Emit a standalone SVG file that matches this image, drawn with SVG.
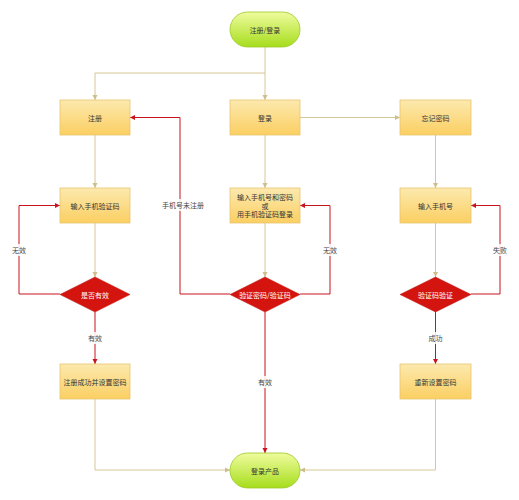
<svg xmlns="http://www.w3.org/2000/svg" width="519" height="500" viewBox="0 0 519 500">
<defs>
<linearGradient id="gBox" x1="0" y1="0" x2="0" y2="1">
<stop offset="0" stop-color="#fce9ae"/>
<stop offset="1" stop-color="#fbcf62"/>
</linearGradient>
<linearGradient id="gTerm" x1="0" y1="0" x2="0" y2="1">
<stop offset="0" stop-color="#effc9e"/>
<stop offset="1" stop-color="#a6dd1c"/>
</linearGradient>
<marker id="aT" markerWidth="6" markerHeight="6" refX="5" refY="3" orient="auto" markerUnits="userSpaceOnUse">
<path d="M0,0.5 L5,3 L0,5.5 Z" fill="#cfbe8c"/>
</marker>
<marker id="aR" markerWidth="6" markerHeight="6" refX="5" refY="3" orient="auto" markerUnits="userSpaceOnUse">
<path d="M0,0.5 L5,3 L0,5.5 Z" fill="#c8141c"/>
</marker>
</defs>
<style>
.box{fill:url(#gBox);stroke:#e8c370;stroke-width:0.8}
.term{fill:url(#gTerm);stroke:#9cc82a;stroke-width:0.8}
.dia{fill:#d4140e;stroke:#c01010;stroke-width:0.5}
.t{font-family:"Noto Sans CJK SC","Liberation Sans",sans-serif;font-size:7px;fill:#333;text-anchor:middle;dominant-baseline:central}
.tw{fill:#fff}
.lt{fill:none;stroke:#d6c796;stroke-width:1;marker-end:url(#aT)}
.lr{fill:none;stroke:#c8141c;stroke-width:1;marker-end:url(#aR)}
.lbl{font-family:"Noto Sans CJK SC","Liberation Sans",sans-serif;font-size:7px;fill:#444;text-anchor:middle;dominant-baseline:central}
</style>
<rect width="519" height="500" fill="#fff"/>
<g id="connectors">
<path class="lt" d="M265,47 V100"/>
<path class="lt" d="M265,73 H95 V100"/>
<path class="lt" d="M300,117.5 H400"/>
<path class="lt" d="M95,135 V188"/>
<path class="lt" d="M265,135 V188"/>
<path class="lt" d="M435.5,135 V188"/>
<path class="lt" d="M95,223 V277"/>
<path class="lt" d="M265,223 V277"/>
<path class="lt" d="M435.5,223 V277"/>
<path class="lr" d="M230,294 H180 V117.5 H130"/>
<path class="lr" d="M60,294 H19 V205.5 H60"/>
<path class="lr" d="M300,294 H330 V205.5 H300"/>
<path class="lr" d="M471,294 H500 V205.5 H471"/>
<path class="lr" d="M95,312 V364"/>
<path class="lr" d="M265,312 V453"/>
<path class="lr" d="M435.5,312 V364"/>
<path class="lt" d="M95,399 V470 H230"/>
<path class="lt" d="M435.5,399 V470 H300"/>
<rect x="160" y="199" width="46" height="12" fill="#fff" fill-opacity="0.85"/>
<text class="lbl" x="183" y="205">手机号未注册</text>
<rect x="9" y="244" width="20" height="12" fill="#fff" fill-opacity="0.85"/>
<text class="lbl" x="19" y="250">无效</text>
<rect x="320" y="244" width="20" height="12" fill="#fff" fill-opacity="0.85"/>
<text class="lbl" x="330" y="250">无效</text>
<rect x="490" y="244" width="20" height="12" fill="#fff" fill-opacity="0.85"/>
<text class="lbl" x="500" y="250">失败</text>
<rect x="85" y="332" width="20" height="12" fill="#fff" fill-opacity="0.85"/>
<text class="lbl" x="95" y="338">有效</text>
<rect x="255" y="376" width="20" height="12" fill="#fff" fill-opacity="0.85"/>
<text class="lbl" x="265" y="382">有效</text>
<rect x="425" y="332" width="20" height="12" fill="#fff" fill-opacity="0.85"/>
<text class="lbl" x="435.5" y="338">成功</text>
</g>
<g id="start"><rect class="term" x="230" y="12" width="70" height="35" rx="17.5"/><text class="t" x="265" y="29.5">注册/登录</text></g>
<g id="register"><rect class="box" x="60" y="100" width="70" height="35"/><text class="t" x="95" y="117.5">注册</text></g>
<g id="login"><rect class="box" x="230" y="100" width="70" height="35"/><text class="t" x="265" y="117.5">登录</text></g>
<g id="forgot"><rect class="box" x="400" y="100" width="71" height="35"/><text class="t" x="435.5" y="117.5">忘记密码</text></g>
<g id="inputCode"><rect class="box" x="60" y="188" width="70" height="35"/><text class="t" x="95" y="205.5">输入手机验证码</text></g>
<g id="inputLogin"><rect class="box" x="230" y="188" width="70" height="35"/><text class="t" x="265" y="197">输入手机号和密码</text><text class="t" x="265" y="205.5">或</text><text class="t" x="265" y="214">用手机验证码登录</text></g>
<g id="inputPhone"><rect class="box" x="400" y="188" width="71" height="35"/><text class="t" x="435.5" y="205.5">输入手机号</text></g>
<g id="valid"><polygon class="dia" points="95,277 130,294.5 95,312 60,294.5"/><text class="t tw" x="95" y="294.5">是否有效</text></g>
<g id="verify"><polygon class="dia" points="265,277 300,294.5 265,312 230,294.5"/><text class="t tw" x="265" y="294.5">验证密码/验证码</text></g>
<g id="codeVerify"><polygon class="dia" points="435.5,277 471,294.5 435.5,312 400,294.5"/><text class="t tw" x="435.5" y="294.5">验证码验证</text></g>
<g id="regDone"><rect class="box" x="60" y="364" width="70" height="35"/><text class="t" x="95" y="381.5">注册成功并设置密码</text></g>
<g id="resetPwd"><rect class="box" x="400" y="364" width="71" height="35"/><text class="t" x="435.5" y="381.5">重新设置密码</text></g>
<g id="end"><rect class="term" x="230" y="453" width="70" height="35" rx="17.5"/><text class="t" x="265" y="470.5">登录产品</text></g>
</svg>
